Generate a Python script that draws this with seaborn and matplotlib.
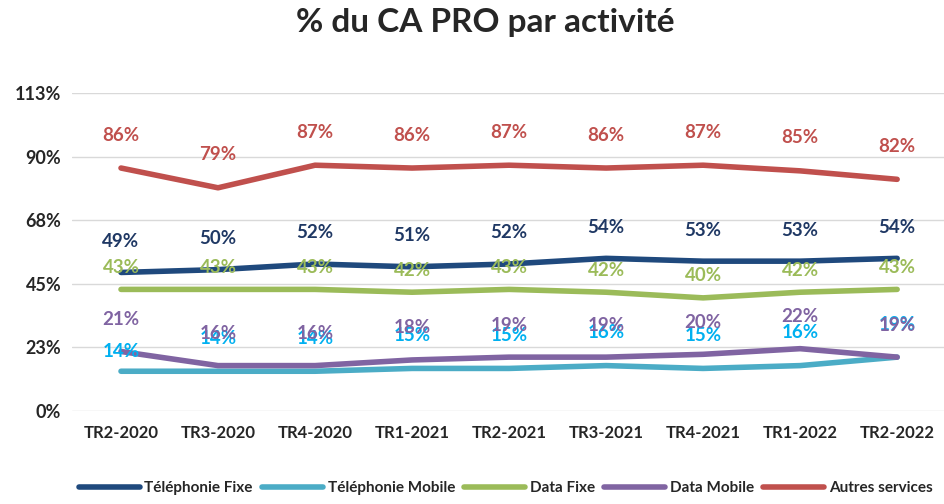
import matplotlib
matplotlib.use("Agg")
import matplotlib.pyplot as plt
import seaborn as sns
import pandas as pd
import numpy as np
from matplotlib.lines import Line2D

categories = ["TR2-2020", "TR3-2020", "TR4-2020", "TR1-2021", "TR2-2021",
              "TR3-2021", "TR4-2021", "TR1-2022", "TR2-2022"]
telephonie_fixe = [49, 50, 52, 51, 52, 54, 53, 53, 54]
telephonie_mobile = [14, 14, 14, 15, 15, 16, 15, 16, 19]
data_fixe = [43, 43, 43, 42, 43, 42, 40, 42, 43]
data_mobile = [21, 16, 16, 18, 19, 19, 20, 22, 19]
autres_services = [86, 79, 87, 86, 87, 86, 87, 85, 82]
y_ticks = [0, 22.5, 45, 67.5, 90, 112.5]
y_tick_labels = ["0%", "23%", "45%", "68%", "90%", "113%"]

series = {
    "Téléphonie Fixe": telephonie_fixe,
    "Téléphonie Mobile": telephonie_mobile,
    "Data Fixe": data_fixe,
    "Data Mobile": data_mobile,
    "Autres services": autres_services,
}
line_colors = {
    "Téléphonie Fixe": "#1F497D",
    "Téléphonie Mobile": "#4BACC6",
    "Data Fixe": "#9BBB59",
    "Data Mobile": "#8064A2",
    "Autres services": "#C0504D",
}
label_colors = {
    "Téléphonie Fixe": "#1F3864",
    "Téléphonie Mobile": "#00B0F0",
    "Data Fixe": "#9BBB59",
    "Data Mobile": "#8064A2",
    "Autres services": "#C0504D",
}
label_offsets = {
    "Téléphonie Fixe": 31,
    "Téléphonie Mobile": 33,
    "Data Fixe": 22,
    "Data Mobile": 32,
    "Autres services": 33,
}

rows = []
for name, vals in series.items():
    for i, (c, v) in enumerate(zip(categories, vals)):
        rows.append({"cat": c, "idx": i, "val": v, "serie": name})
df = pd.DataFrame(rows)

sns.set_theme(style="white")
plt.rcParams["font.family"] = ["Lato", "DejaVu Sans"]

fig = plt.figure(figsize=(9.45, 5.04), dpi=100)
ax = fig.add_axes([0.0767, 0.185, 0.924, 0.63])

sns.lineplot(data=df, x="idx", y="val", hue="serie", palette=line_colors,
             hue_order=list(series.keys()), linewidth=4, ax=ax, legend=False)
for ln in ax.lines:
    ln.set_solid_capstyle("round")

for name, vals in series.items():
    for i, v in enumerate(vals):
        off = label_offsets[name]
        if name == "Téléphonie Mobile" and i == 0:
            off = 20
        ax.annotate(f"{v}%", (i, v), xytext=(0, off),
                    textcoords="offset pixels",
                    ha="center", va="center", fontsize=13.5, fontweight="bold",
                    color=label_colors[name])

ax.set_ylim(0, 112.5)
ax.set_xlim(-0.5, 8.5)
ax.set_yticks(y_ticks)
ax.set_yticklabels(y_tick_labels, fontsize=13, fontweight="bold")
ax.set_xticks(range(len(categories)))
ax.set_xticklabels(categories, fontsize=12, fontweight="bold")
ax.tick_params(axis="x", pad=10, length=0)
ax.tick_params(axis="y", pad=8, length=0)
ax.grid(axis="y", color="#D9D9D9", linewidth=1)
ax.set_xlabel("")
ax.set_ylabel("")
for s in ax.spines.values():
    s.set_visible(False)

fig.suptitle("% du CA PRO par activité", fontsize=24, fontweight="bold",
             y=0.985, x=0.513)

handles = [Line2D([0], [0], color=line_colors[n], linewidth=4,
                  solid_capstyle="round") for n in series]
fig.legend(handles, list(series.keys()), loc="lower center",
           bbox_to_anchor=(0.535, -0.01), ncol=5, frameon=False,
           prop={"size": 11, "weight": "bold"}, handlelength=4,
           columnspacing=0.6, handletextpad=0.3)

fig.savefig("out.png", dpi=100)
